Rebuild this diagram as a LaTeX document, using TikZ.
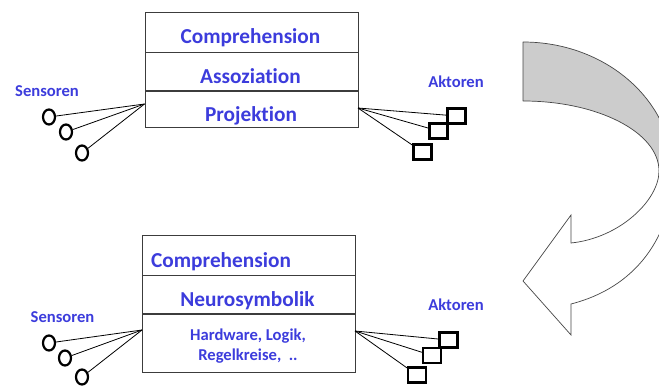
\documentclass[tikz,border=0pt]{standalone}
\usepackage{fontspec}
\setmainfont{Carlito}[Ligatures={NoCommon}]
\usetikzlibrary{shapes.geometric}
\definecolor{txtblue}{RGB}{60,60,220}
\definecolor{boxline}{RGB}{60,60,60}
\definecolor{arrowgray}{RGB}{204,204,204}
\definecolor{arrowline}{RGB}{70,70,70}
\tikzset{
  rowbox/.style={draw=boxline, line width=0.9pt, minimum width=213pt, inner sep=0pt, outer sep=0pt},
  bigtxt/.style={text=txtblue, font=\fontsize{21.3}{24}\selectfont\bfseries, inner sep=0pt, anchor=base},
  smalltxt/.style={text=txtblue, font=\fontsize{16.6}{19}\selectfont\bfseries, inner sep=0pt, anchor=base},
  sensor/.style={draw=black, ellipse, line width=2.2pt, minimum width=12pt, minimum height=15pt, inner sep=0pt},
  actor/.style={draw=black, rectangle, line width=2.2pt, minimum width=18pt, minimum height=15pt, inner sep=0pt},
  fan/.style={draw=black, line width=0.8pt},
  divider/.style={draw=boxline, line width=1.6pt}
}
\begin{document}
\begin{tikzpicture}[x=1pt, y=-1pt]
\useasboundingbox (0,0) rectangle (659,387);

% ---------- top block ----------
\node[rowbox, minimum height=40pt] (t1) at (251.5,32) {};
\node[rowbox, minimum height=39pt] (t2) at (251.5,71.5) {};
\node[rowbox, minimum height=36pt] (t3) at (251.5,109) {};
\draw[divider] (t2.south west) -- (t2.south east);
\node[bigtxt] (t1txt) at (250.5,44) {Comprehension};
\node[bigtxt] (t2txt) at (250.5,84) {Assoziation};
\node[bigtxt] (t3txt) at (251,121.7) {Projektion};

\node[smalltxt] (sens1) at (47,96.7) {Sensoren};
\node[smalltxt] (akt1) at (456,87.3) {Aktoren};

\coordinate (tl) at (144.5,104);
\coordinate (tr) at (358,108);
\node[sensor] (tc1) at (49,117) {};
\node[sensor] (tc2) at (66,132) {};
\node[sensor] (tc3) at (82,153) {};
\draw[fan] (tl) -- (tc1);
\draw[fan] (tl) -- (tc2);
\draw[fan] (tl) -- (tc3);
\node[actor] (ts1) at (456.5,116) {};
\node[actor] (ts2) at (438.5,131) {};
\node[actor] (ts3) at (422.5,152) {};
\draw[fan] (tr) -- (ts1);
\draw[fan] (tr) -- (ts2);
\draw[fan] (tr) -- (ts3);

% ---------- bottom block ----------
\node[rowbox, minimum height=40pt] (b1) at (248.5,255) {};
\node[rowbox, minimum height=39pt] (b2) at (248.5,294.5) {};
\node[rowbox, minimum height=58pt] (b3) at (248.5,343) {};
\draw[divider] (b2.south west) -- (b2.south east);
\node[bigtxt, anchor=base west] (b1txt) at (151,267.7) {Comprehension};
\node[bigtxt] (b2txt) at (247.5,306.7) {Neurosymbolik};
\node[smalltxt] (b3txta) at (248,340.7) {Hardware, Logik,};
\node[smalltxt] (b3txtb) at (248,360.7) {Regelkreise,~ ..};

\node[smalltxt] (sens2) at (62.5,322.3) {Sensoren};
\node[smalltxt] (akt2) at (456,310.7) {Aktoren};

\coordinate (bl) at (142,330);
\coordinate (br) at (355,331);
\node[sensor] (bc1) at (49,343) {};
\node[sensor] (bc2) at (65,358) {};
\node[sensor] (bc3) at (82,377) {};
\draw[fan] (bl) -- (bc1);
\draw[fan] (bl) -- (bc2);
\draw[fan] (bl) -- (bc3);
\node[actor] (bs1) at (448.5,340) {};
\node[actor] (bs2) at (432,355.5) {};
\node[actor] (bs3) at (417,375) {};
\draw[fan] (br) -- (bs1);
\draw[fan] (br) -- (bs2);
\draw[fan] (br) -- (bs3);

% ---------- curved arrow ----------
\begin{scope}
\clip (0,0) rectangle (659,387);
\draw[arrowline, fill=arrowgray, line width=0.7pt, line join=round]
  (523,42) -- (523,101)
  .. controls (598,101) and (659,132.4) .. (659,171)
  -- (673,173)
  .. controls (673,100.7) and (605.8,42) .. (523,42) -- cycle;
\draw[arrowline, fill=white, line width=0.7pt, line join=miter]
  (659,171)
  .. controls (659,200) and (620,238) .. (571,243)
  -- (571,215) -- (523,281) -- (571,335) -- (571,304)
  .. controls (645,285) and (673,225) .. (673,173)
  -- cycle;
\end{scope}
\end{tikzpicture}
\end{document}
